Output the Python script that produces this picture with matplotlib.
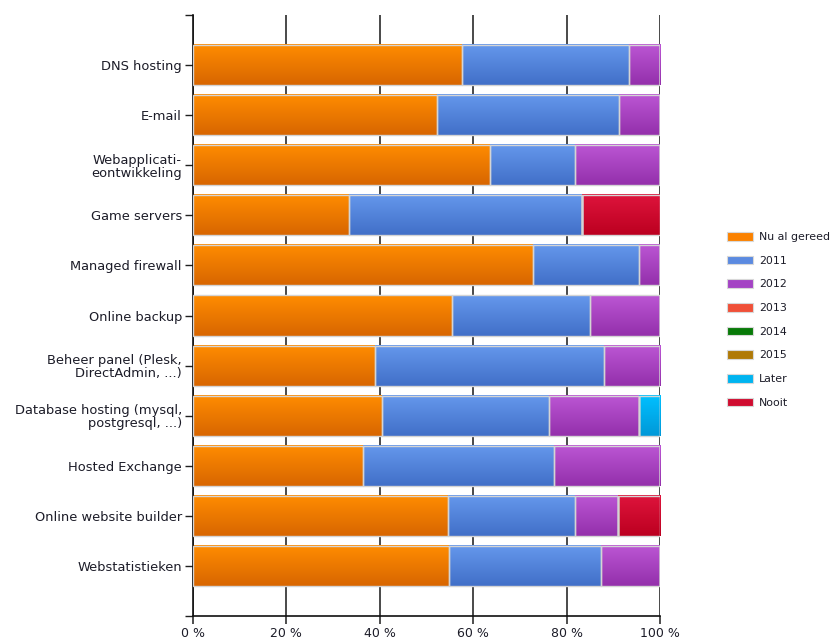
import numpy as np
import matplotlib.pyplot as plt
from matplotlib.colors import LinearSegmentedColormap
from matplotlib.patches import Patch

categories = ['DNS hosting', 'E-mail', 'Webapplicati-\neontwikkeling', 'Game servers',
              'Managed firewall', 'Online backup', 'Beheer panel (Plesk,\nDirectAdmin, ...)',
              'Database hosting (mysql,\npostgresql, ...)', 'Hosted Exchange',
              'Online website builder', 'Webstatistieken']

series = ['Nu al gereed', '2011', '2012', '2013', '2014', '2015', 'Later', 'Nooit']

# percentages per category, one list per series
nu_al = [57.6, 52.2, 63.6, 33.3, 72.7, 55.4, 39.0, 40.5, 36.3, 54.5, 54.9]
y2011 = [35.7, 39.1, 18.3, 50.1, 22.9, 29.7, 48.9, 35.8, 40.9, 27.4, 32.5]
y2012 = [6.7, 8.7, 18.1, 0.0, 4.4, 14.9, 12.1, 19.1, 22.8, 9.0, 12.6]
y2013 = [0.0] * 11
y2014 = [0.0] * 11
y2015 = [0.0] * 11
later = [0.0, 0.0, 0.0, 0.0, 0.0, 0.0, 0.0, 4.6, 0.0, 0.0, 0.0]
nooit = [0.0, 0.0, 0.0, 16.6, 0.0, 0.0, 0.0, 0.0, 0.0, 9.1, 0.0]

values = [nu_al, y2011, y2012, y2013, y2014, y2015, later, nooit]

# legend colour and (top, bottom) gradient for each series
legend_colors = ['#fb8200', '#5b8ae0', '#a443c4', '#f05038', '#087a08', '#b07a08', '#00b4f0', '#d00c30']
gradients = [('#ff8c00', '#d86600'), ('#6598ec', '#416fc8'), ('#bb56d4', '#9430ab'),
             ('#f86048', '#d83820'), ('#108a10', '#006600'), ('#c08a10', '#9a6a00'),
             ('#00c0ff', '#0098d8'), ('#de143c', '#bc0020')]

fig = plt.figure(figsize=(8.34, 6.41), dpi=100)
ax = fig.add_axes([0.2314, 0.039, 0.56, 0.9376])

ypos = np.arange(len(categories))
left = np.zeros(len(categories))
grad = np.linspace(0, 1, 64).reshape(-1, 1)
for vals, (top, bot) in zip(values, gradients):
    bars = ax.barh(ypos, vals, left=left, height=0.8, facecolor='none',
                   edgecolor='#d4d4d4', linewidth=1.0, zorder=3)
    cmap = LinearSegmentedColormap.from_list('g', [top, bot])
    for p in bars.patches:
        w = p.get_width()
        if w <= 0:
            continue
        x0, y0, h = p.get_x(), p.get_y(), p.get_height()
        ax.imshow(grad, cmap=cmap, aspect='auto', interpolation='bilinear',
                  extent=(x0, x0 + w, y0 + h, y0), zorder=2)
    left += np.array(vals)

ax.set_xlim(0, 100)
ax.set_ylim(11, -1)
ax.set_yticks(ypos)
ax.set_yticklabels(categories, fontsize=9.4, color='#1c1c28', linespacing=1.0)
ax.set_yticks([-1, 11], minor=True)
ax.set_xticks([0, 20, 40, 60, 80, 100])
ax.set_xticklabels(['0 %', '20 %', '40 %', '60 %', '80 %', '100 %'], fontsize=9, color='#1c1c28')
ax.tick_params(axis='y', which='both', length=6, width=1.0, color='#202020', pad=2)
ax.tick_params(axis='x', length=6, width=1.3, color='#404040', pad=2)
ax.grid(axis='x', color='#3a3a3a', linewidth=1.3, zorder=0)
ax.set_axisbelow(True)
for s in ['top', 'right']:
    ax.spines[s].set_visible(False)
for s in ['left', 'bottom']:
    ax.spines[s].set_color('#101010')
    ax.spines[s].set_linewidth(1.2)

handles = [Patch(facecolor=c, edgecolor='#d8d8d8', linewidth=0.8) for c in legend_colors]
fig.legend(handles, series, loc='upper left', bbox_to_anchor=(727 / 834, 1 - 232 / 641),
           frameon=False, fontsize=7.9, handlelength=2.37, handleheight=0.82,
           handletextpad=0.55, labelspacing=1.24, borderpad=0, borderaxespad=0,
           labelcolor='#1c1c28')

fig.savefig('out.png', dpi=100, facecolor='white')
